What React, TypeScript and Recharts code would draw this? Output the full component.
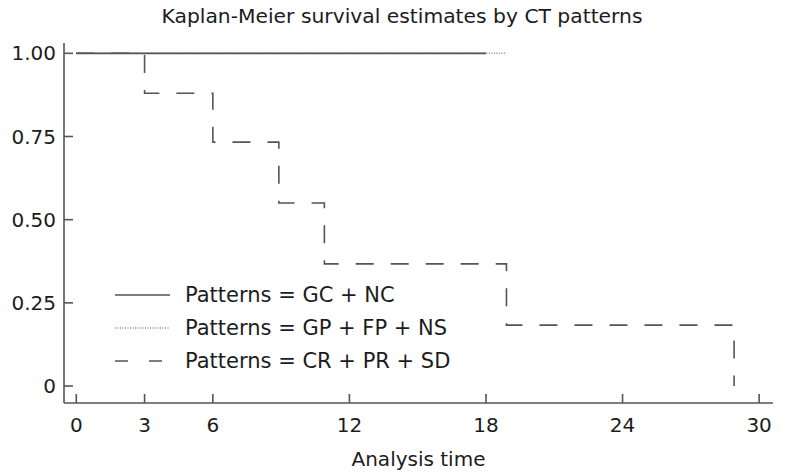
import { LineChart, Line, XAxis, YAxis, Legend } from 'recharts'

// Kaplan-Meier estimates
const timesGcNc = [0, 18]
const survGcNc = [1, 1]
const timesGpFpNs = [0, 18.9]
const survGpFpNs = [1, 1]
const timesCrPrSd = [0, 3, 6, 8.9, 10.9, 18.9, 28.9]
const survCrPrSd = [1, 0.88, 0.733, 0.55, 0.367, 0.183, 0]

const xTicks = [0, 3, 6, 12, 18, 24, 30]
const yTicks = [0, 0.25, 0.5, 0.75, 1]
const yTickLabels = ['0', '0.25', '0.50', '0.75', '1.00']
const seriesNames = ['Patterns = GC + NC', 'Patterns = GP + FP + NS', 'Patterns = CR + PR + SD']

const toPoints = (times: number[], surv: number[]) =>
  times.map((t, i) => ({ time: t, surv: surv[i] }))

const FONT = '"DejaVu Sans", Verdana, sans-serif'
const INK = '#555'
const TEXT = '#1c1c1c'

const legendStyles = [
  { stroke: INK, dash: undefined as string | undefined, width: 1.6 },
  { stroke: '#8a8a8a', dash: '1 1.5', width: 1.4 },
  { stroke: INK, dash: '13 21', width: 1.6 },
]

function KmLegend() {
  return (
    <div style={{ fontFamily: FONT, fontSize: 21, color: TEXT }}>
      {seriesNames.map((name, i) => (
        <div key={name} style={{ display: 'flex', alignItems: 'center', height: 33 }}>
          <svg width={55} height={10} style={{ marginRight: 15 }}>
            <line
              x1={0}
              y1={5}
              x2={55}
              y2={5}
              stroke={legendStyles[i].stroke}
              strokeWidth={legendStyles[i].width}
              strokeDasharray={legendStyles[i].dash}
            />
          </svg>
          <span style={{ whiteSpace: 'nowrap' }}>{name}</span>
        </div>
      ))}
    </div>
  )
}

export default function App() {
  const tickStyle = { fontSize: 20, fill: TEXT, fontFamily: FONT }

  return (
    <div style={{ position: 'absolute', left: 0, top: 0, width: 788, height: 475, background: '#fff' }}>
      <div
        style={{
          position: 'absolute',
          left: 0,
          top: 4,
          width: 804,
          textAlign: 'center',
          fontFamily: FONT,
          fontSize: 20.3,
          color: TEXT,
        }}
      >
        Kaplan-Meier survival estimates by CT patterns
      </div>
      <LineChart width={788} height={475} margin={{ top: 43, right: 15, bottom: 0, left: 0 }}>
        <XAxis
          dataKey="time"
          type="number"
          domain={[-0.54, 30.61]}
          allowDataOverflow
          ticks={xTicks}
          height={72}
          tickSize={-9}
          tickMargin={24}
          tick={tickStyle}
          stroke={INK}
          strokeWidth={1.6}
          label={{ value: 'Analysis time', position: 'insideBottom', offset: 9, style: { fontSize: 20, fill: TEXT, fontFamily: FONT } }}
        />
        <YAxis
          type="number"
          domain={[-0.051, 1.031]}
          allowDataOverflow
          ticks={yTicks}
          width={64}
          tickSize={-9}
          tickMargin={17}
          tick={tickStyle}
          tickFormatter={(v: number) => yTickLabels[yTicks.indexOf(v)]}
          stroke={INK}
          strokeWidth={1.6}
        />
        <Legend
          layout="vertical"
          align="center"
          verticalAlign="middle"
          wrapperStyle={{ left: 115, top: 278, width: 340 }}
          content={() => <KmLegend />}
        />
        <Line
          data={toPoints(timesGpFpNs, survGpFpNs)}
          dataKey="surv"
          name={seriesNames[1]}
          type="stepAfter"
          stroke="#8a8a8a"
          strokeWidth={1.4}
          strokeDasharray="1 1.5"
          dot={false}
          isAnimationActive={false}
        />
        <Line
          data={toPoints(timesCrPrSd, survCrPrSd)}
          dataKey="surv"
          name={seriesNames[2]}
          type="stepAfter"
          stroke={INK}
          strokeWidth={1.6}
          strokeDasharray="18 17"
          dot={false}
          isAnimationActive={false}
        />
        <Line
          data={toPoints(timesGcNc, survGcNc)}
          dataKey="surv"
          name={seriesNames[0]}
          type="stepAfter"
          stroke={INK}
          strokeWidth={1.8}
          dot={false}
          isAnimationActive={false}
        />
      </LineChart>
    </div>
  )
}
